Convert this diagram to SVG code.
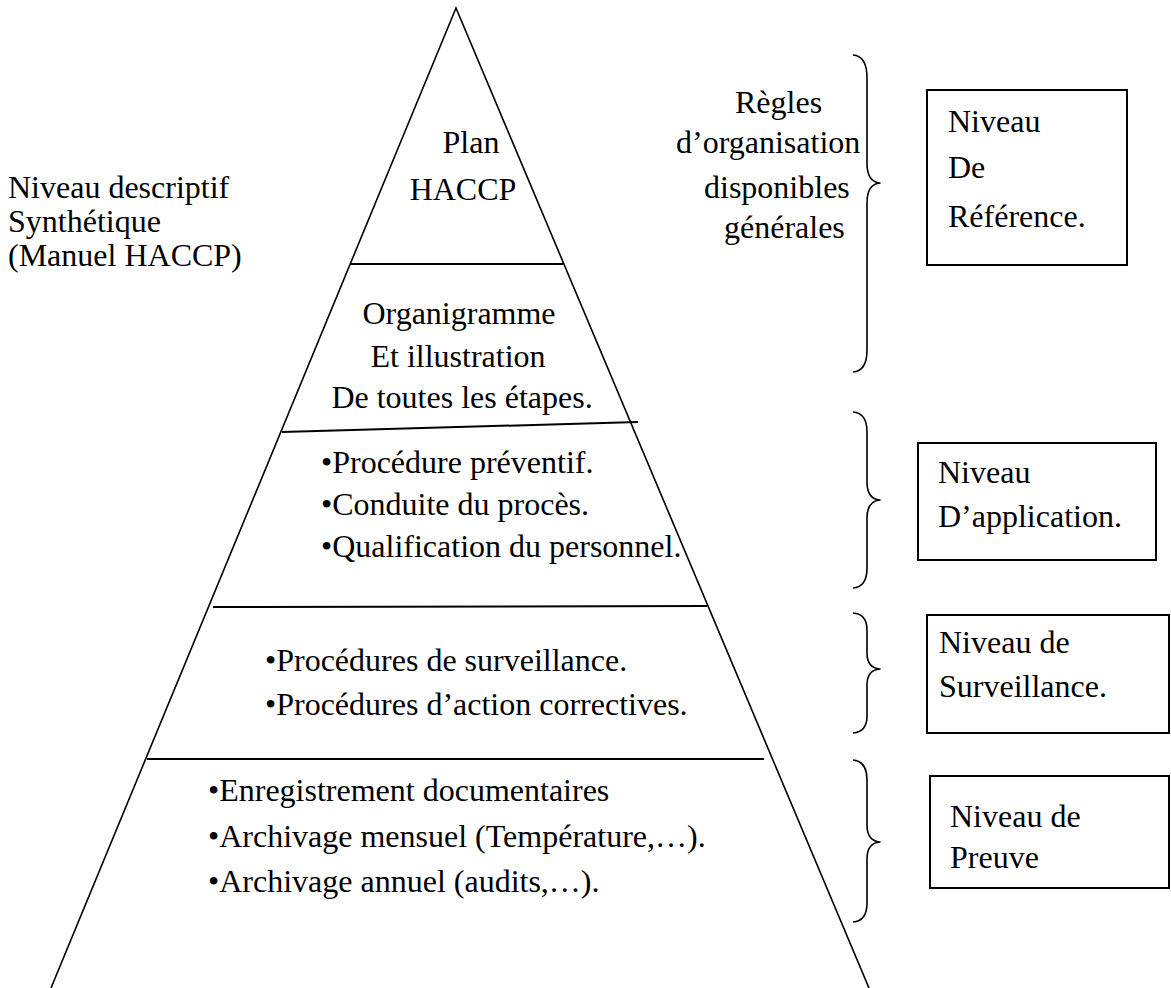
<svg xmlns="http://www.w3.org/2000/svg" width="1171" height="988" viewBox="0 0 1171 988">
  <style>
    text { font-family: "Liberation Serif", "Times New Roman", serif; font-size: 32px; fill: #000; }
    .mid { text-anchor: middle; }
    .edge { stroke: #000; stroke-width: 1.6; fill: none; }
    .tier { stroke: #000; stroke-width: 2; fill: none; }
    .box { stroke: #000; stroke-width: 2; fill: #fff; }
    .brace { stroke: #000; stroke-width: 1.6; fill: none; stroke-linejoin: round; }
  </style>

  <!-- pyramid outline and tier dividers -->
  <g id="pyramid">
    <polyline class="edge" points="51,988 456,8 869,988"/>
    <line class="tier" x1="351" y1="264" x2="563" y2="264"/>
    <line class="tier" x1="282" y1="432" x2="638" y2="422"/>
    <line class="tier" x1="213" y1="607" x2="707" y2="606"/>
    <line class="tier" x1="147" y1="759" x2="764" y2="759"/>
  </g>

  <!-- left caption -->
  <g id="caption-left">
    <text x="8" y="198">Niveau descriptif</text>
    <text x="8" y="232">Synthétique</text>
    <text x="8" y="266">(Manuel HACCP)</text>
  </g>

  <!-- tier 1 -->
  <g id="tier-plan">
    <text x="471" y="153" class="mid">Plan</text>
    <text x="463" y="200" class="mid">HACCP</text>
  </g>

  <!-- tier 2 -->
  <g id="tier-organigramme">
    <text x="459" y="324" class="mid">Organigramme</text>
    <text x="458" y="367" class="mid">Et illustration</text>
    <text x="462" y="408" class="mid">De toutes les étapes.</text>
  </g>

  <!-- tier 3 -->
  <g id="tier-procedures">
    <text x="321" y="473">•Procédure préventif.</text>
    <text x="321" y="515">•Conduite du procès.</text>
    <text x="321" y="557">•Qualification du personnel.</text>
  </g>

  <!-- tier 4 -->
  <g id="tier-surveillance">
    <text x="265" y="671">•Procédures de surveillance.</text>
    <text x="265" y="715">•Procédures d’action correctives.</text>
  </g>

  <!-- tier 5 -->
  <g id="tier-preuve">
    <text x="208" y="801">•Enregistrement documentaires</text>
    <text x="208" y="847">•Archivage mensuel (Température,…).</text>
    <text x="208" y="892">•Archivage annuel (audits,…).</text>
  </g>

  <!-- rules caption -->
  <g id="caption-regles">
    <text x="735" y="113">Règles</text>
    <text x="676" y="153">d’organisation</text>
    <text x="704" y="198">disponibles</text>
    <text x="724" y="238">générales</text>
  </g>

  <!-- braces linking tiers to level boxes -->
  <g id="connectors">
    <path class="brace" d="M853,55 Q867,56 867,78 L867,163 Q867,182 880,183 Q867,184 867,203 L867,350 Q867,371 853,372"/>
    <path class="brace" d="M853,412 Q867,413 867,432 L867,482 Q867,499 880,500 Q867,501 867,518 L867,568 Q867,587 853,588"/>
    <path class="brace" d="M853,613 Q867,614 867,630 L867,653 Q867,668 880,669 Q867,670 867,685 L867,716 Q867,732 853,733"/>
    <path class="brace" d="M853,760 Q867,761 867,780 L867,825 Q867,841 880,842 Q867,843 867,859 L867,903 Q867,921 853,922"/>
  </g>

  <!-- level boxes -->
  <g id="box-reference">
    <rect class="box" x="927" y="90" width="200" height="175"/>
    <text x="948" y="132">Niveau</text>
    <text x="948" y="178">De</text>
    <text x="948" y="227">Référence.</text>
  </g>

  <g id="box-application">
    <rect class="box" x="918" y="443" width="238" height="117"/>
    <text x="938" y="483">Niveau</text>
    <text x="938" y="527">D’application.</text>
  </g>

  <g id="box-surveillance">
    <rect class="box" x="927" y="615" width="242" height="118"/>
    <text x="939" y="653">Niveau de</text>
    <text x="939" y="697">Surveillance.</text>
  </g>

  <g id="box-preuve">
    <rect class="box" x="930" y="776" width="239" height="112"/>
    <text x="950" y="827">Niveau de</text>
    <text x="950" y="868">Preuve</text>
  </g>
</svg>
